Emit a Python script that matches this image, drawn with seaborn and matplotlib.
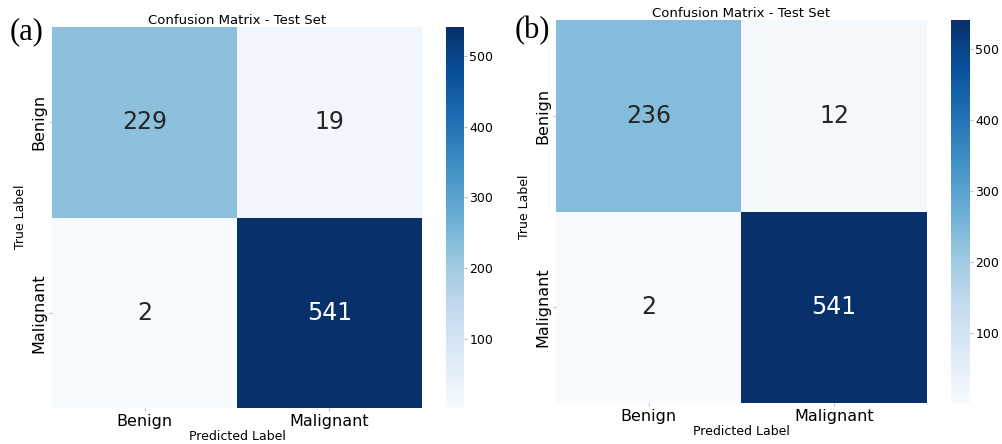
import numpy as np
import pandas as pd
import seaborn as sns
import matplotlib
matplotlib.use('Agg')
import matplotlib.pyplot as plt

classes = ['Benign', 'Malignant']
cm_a = [[229, 19], [2, 541]]
cm_b = [[236, 12], [2, 541]]
panel_tags = ['(a)', '(b)']

plt.rcParams.update({'font.family': 'DejaVu Sans'})

fig = plt.figure(figsize=(10.02, 4.44), dpi=100)

# [left, bottom, width, height] for heatmap and colorbar of each panel
layout = [
    ([0.052, 0.081, 0.369, 0.858], [0.445, 0.081, 0.018, 0.858], (0.010, 0.928), (0.0205, 0.511)),
    ([0.555, 0.092, 0.370, 0.863], [0.949, 0.092, 0.019, 0.863], (0.514, 0.932), (0.523, 0.534)),
]

for cm, tag, (hm_pos, cb_pos, tag_xy, ylab_xy) in zip([cm_a, cm_b], panel_tags, layout):
    ax = fig.add_axes(hm_pos)
    cax = fig.add_axes(cb_pos)
    df = pd.DataFrame(cm, index=classes, columns=classes)
    sns.heatmap(df, annot=True, fmt='d', cmap='Blues', ax=ax, cbar_ax=cax,
                annot_kws={'size': 17})
    ax.set_title('Confusion Matrix - Test Set', fontsize=9.5, pad=2)
    ax.set_xlabel('Predicted Label', fontsize=9, labelpad=1)
    ax.set_ylabel('')
    ax.tick_params(axis='both', labelsize=11.5, length=2, pad=2, color='#bbbbbb')
    fig.text(ylab_xy[0], ylab_xy[1], 'True Label', rotation=90, fontsize=9,
             ha='center', va='center')
    cax.tick_params(labelsize=9, length=2, pad=2, color='#bbbbbb')
    cax.set_yticks([100, 200, 300, 400, 500])
    for s in cax.spines.values():
        s.set_visible(False)
    fig.text(tag_xy[0], tag_xy[1], tag, fontsize=22, family='Liberation Serif',
             ha='left', va='center')

fig.savefig('out.png', dpi=100)
